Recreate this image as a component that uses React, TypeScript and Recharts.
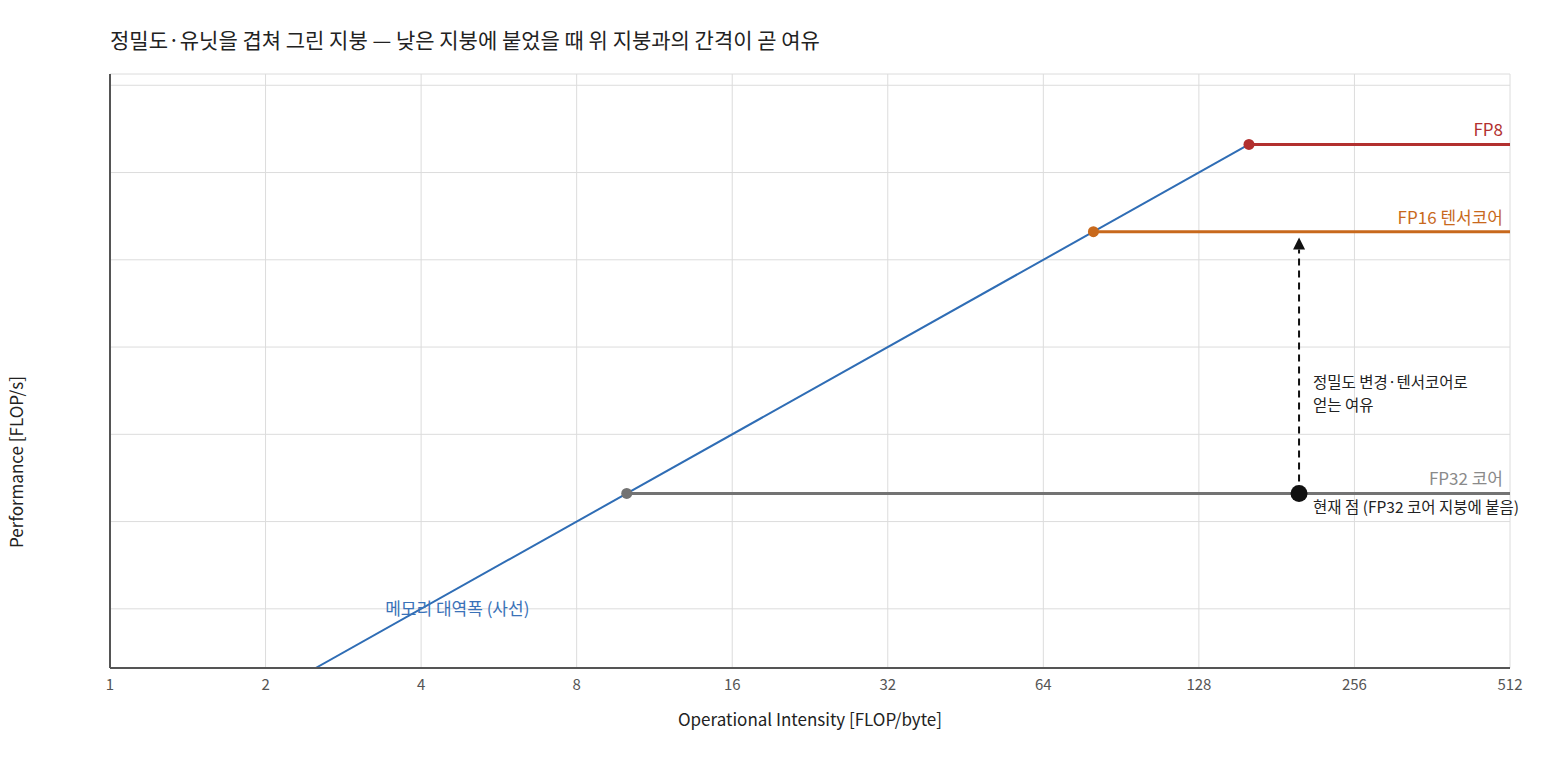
import {
  ComposedChart,
  Line,
  XAxis,
  YAxis,
  CartesianGrid,
  ReferenceDot,
} from "recharts";

// x ticks (FLOP/byte), log2 scale
const intensityTicks = [1, 2, 4, 8, 16, 32, 64, 128, 256, 512];
// horizontal grid lines (performance, powers of 2, unlabeled)
const perfGrid = [4, 8, 16, 32, 64, 128, 256];

const roofNames = ["FP32 코어", "FP16 텐서코어", "FP8"];
const roofPeaks = [10, 80, 160];
const roofColors = ["#737373", "#c8691c", "#b2302f"];
const roofLabelColors = ["#8a8a8a", "#c8691c", "#b2302f"];

const bandwidth = 1; // slope of the memory roof
const memoryStart = 2.5;
const memoryEnd = 160;

const currentX = 200;
const currentY = 10;
const arrowTop = 69.5;

const FONT = "'Noto Sans CJK KR', 'Noto Sans', sans-serif";

const memoryData = [
  { x: memoryStart, y: memoryStart * bandwidth },
  { x: memoryEnd, y: memoryEnd * bandwidth },
];

const roofData = roofPeaks.map((p) => [
  { x: p / bandwidth, y: p },
  { x: 512, y: p },
]);

const arrowData = [
  { x: currentX, y: currentY },
  { x: currentX, y: arrowTop },
];

const kneeDot = (color: string) => (props: any) => {
  const { cx, cy, index } = props;
  if (index !== 0) return <g key={`k${index}`} />;
  return <circle key={`k${index}`} cx={cx} cy={cy} r={5.5} fill={color} />;
};

const arrowHead = (props: any) => {
  const { cx, cy, index } = props;
  if (index !== 1) return <g key={`a${index}`} />;
  return (
    <polygon
      key={`a${index}`}
      points={`${cx},${cy - 12} ${cx - 6},${cy} ${cx + 6},${cy}`}
      fill="#111"
    />
  );
};

const xTick = (props: any) => {
  const { x, y, payload } = props;
  return (
    <text x={x} y={y + 14} textAnchor="middle" fontSize={15} fill="#555">
      {payload.value}
    </text>
  );
};

export default function App() {
  return (
    <div
      style={{
        position: "absolute",
        left: 0,
        top: 0,
        width: 1560,
        height: 760,
        background: "#fff",
        fontFamily: FONT,
      }}
    >
      <div
        style={{
          position: "absolute",
          left: 110,
          top: 24,
          fontSize: 21,
          color: "#222",
          whiteSpace: "nowrap",
        }}
      >
        정밀도·유닛을 겹쳐 그린 지붕 — 낮은 지붕에 붙었을 때 위 지붕과의 간격이 곧 여유
      </div>
      <ComposedChart
        width={1560}
        height={760}
        margin={{ top: 74, right: 50, left: 50, bottom: 62 }}
        style={{ fontFamily: FONT }}
      >
        <CartesianGrid stroke="#dcdcdc" strokeWidth={1} />
        <XAxis
          dataKey="x"
          type="number"
          scale="log"
          domain={[1, 512]}
          ticks={intensityTicks}
          allowDataOverflow
          tickLine={false}
          axisLine={{ stroke: "#555", strokeWidth: 2 }}
          tick={xTick}
          height={30}
          label={(p: any) => (
            <text
              x={810}
              y={726}
              textAnchor="middle"
              fontSize={17}
              fill="#222"
            >
              Operational Intensity [FLOP/byte]
            </text>
          )}
        />
        <YAxis
          dataKey="y"
          type="number"
          scale="log"
          domain={[2.5, 280]}
          ticks={perfGrid}
          allowDataOverflow
          tick={() => <g />}
          tickLine={false}
          axisLine={{ stroke: "#555", strokeWidth: 2 }}
          width={60}
          label={(p: any) => (
            <text
              x={23}
              y={462}
              textAnchor="middle"
              fontSize={17}
              fill="#222"
              transform="rotate(-90 23 462)"
            >
              Performance [FLOP/s]
            </text>
          )}
        />
        <Line
          data={memoryData}
          dataKey="y"
          type="linear"
          stroke="#2f6db5"
          strokeWidth={2}
          dot={false}
          isAnimationActive={false}
        />
        {roofData.map((d, i) => (
          <Line
            key={roofNames[i]}
            data={d}
            dataKey="y"
            type="linear"
            stroke={roofColors[i]}
            strokeWidth={3}
            dot={kneeDot(roofColors[i])}
            isAnimationActive={false}
          />
        ))}
        <Line
          data={arrowData}
          dataKey="y"
          type="linear"
          stroke="#111"
          strokeWidth={2}
          strokeDasharray="7 5"
          dot={arrowHead}
          isAnimationActive={false}
        />
        {roofNames.map((n, i) => (
          <ReferenceDot
            key={`lbl${n}`}
            x={512}
            y={roofPeaks[i]}
            r={0}
            shape={(p: any) => (
              <text
                x={p.cx - 7}
                y={p.cy - 8}
                textAnchor="end"
                fontSize={17}
                fill={roofLabelColors[i]}
              >
                {n}
              </text>
            )}
          />
        ))}
        <ReferenceDot
          x={4.7}
          y={4}
          r={0}
          shape={(p: any) => (
            <text
              x={p.cx}
              y={p.cy + 6}
              textAnchor="middle"
              fontSize={17}
              fill="#3a72b8"
            >
              메모리 대역폭 (사선)
            </text>
          )}
        />
        <ReferenceDot
          x={currentX}
          y={22}
          r={0}
          shape={(p: any) => (
            <text x={p.cx + 14} y={p.cy - 6} fontSize={15.5} fill="#222">
              <tspan x={p.cx + 14}>정밀도 변경·텐서코어로</tspan>
              <tspan x={p.cx + 14} dy={23}>
                얻는 여유
              </tspan>
            </text>
          )}
        />
        <ReferenceDot
          x={currentX}
          y={currentY}
          r={0}
          shape={(p: any) => (
            <g>
              <circle cx={p.cx} cy={p.cy} r={8.5} fill="#111" />
              <text x={p.cx + 14} y={p.cy + 20} fontSize={15.5} fill="#222">
                현재 점 (FP32 코어 지붕에 붙음)
              </text>
            </g>
          )}
        />
      </ComposedChart>
    </div>
  );
}
